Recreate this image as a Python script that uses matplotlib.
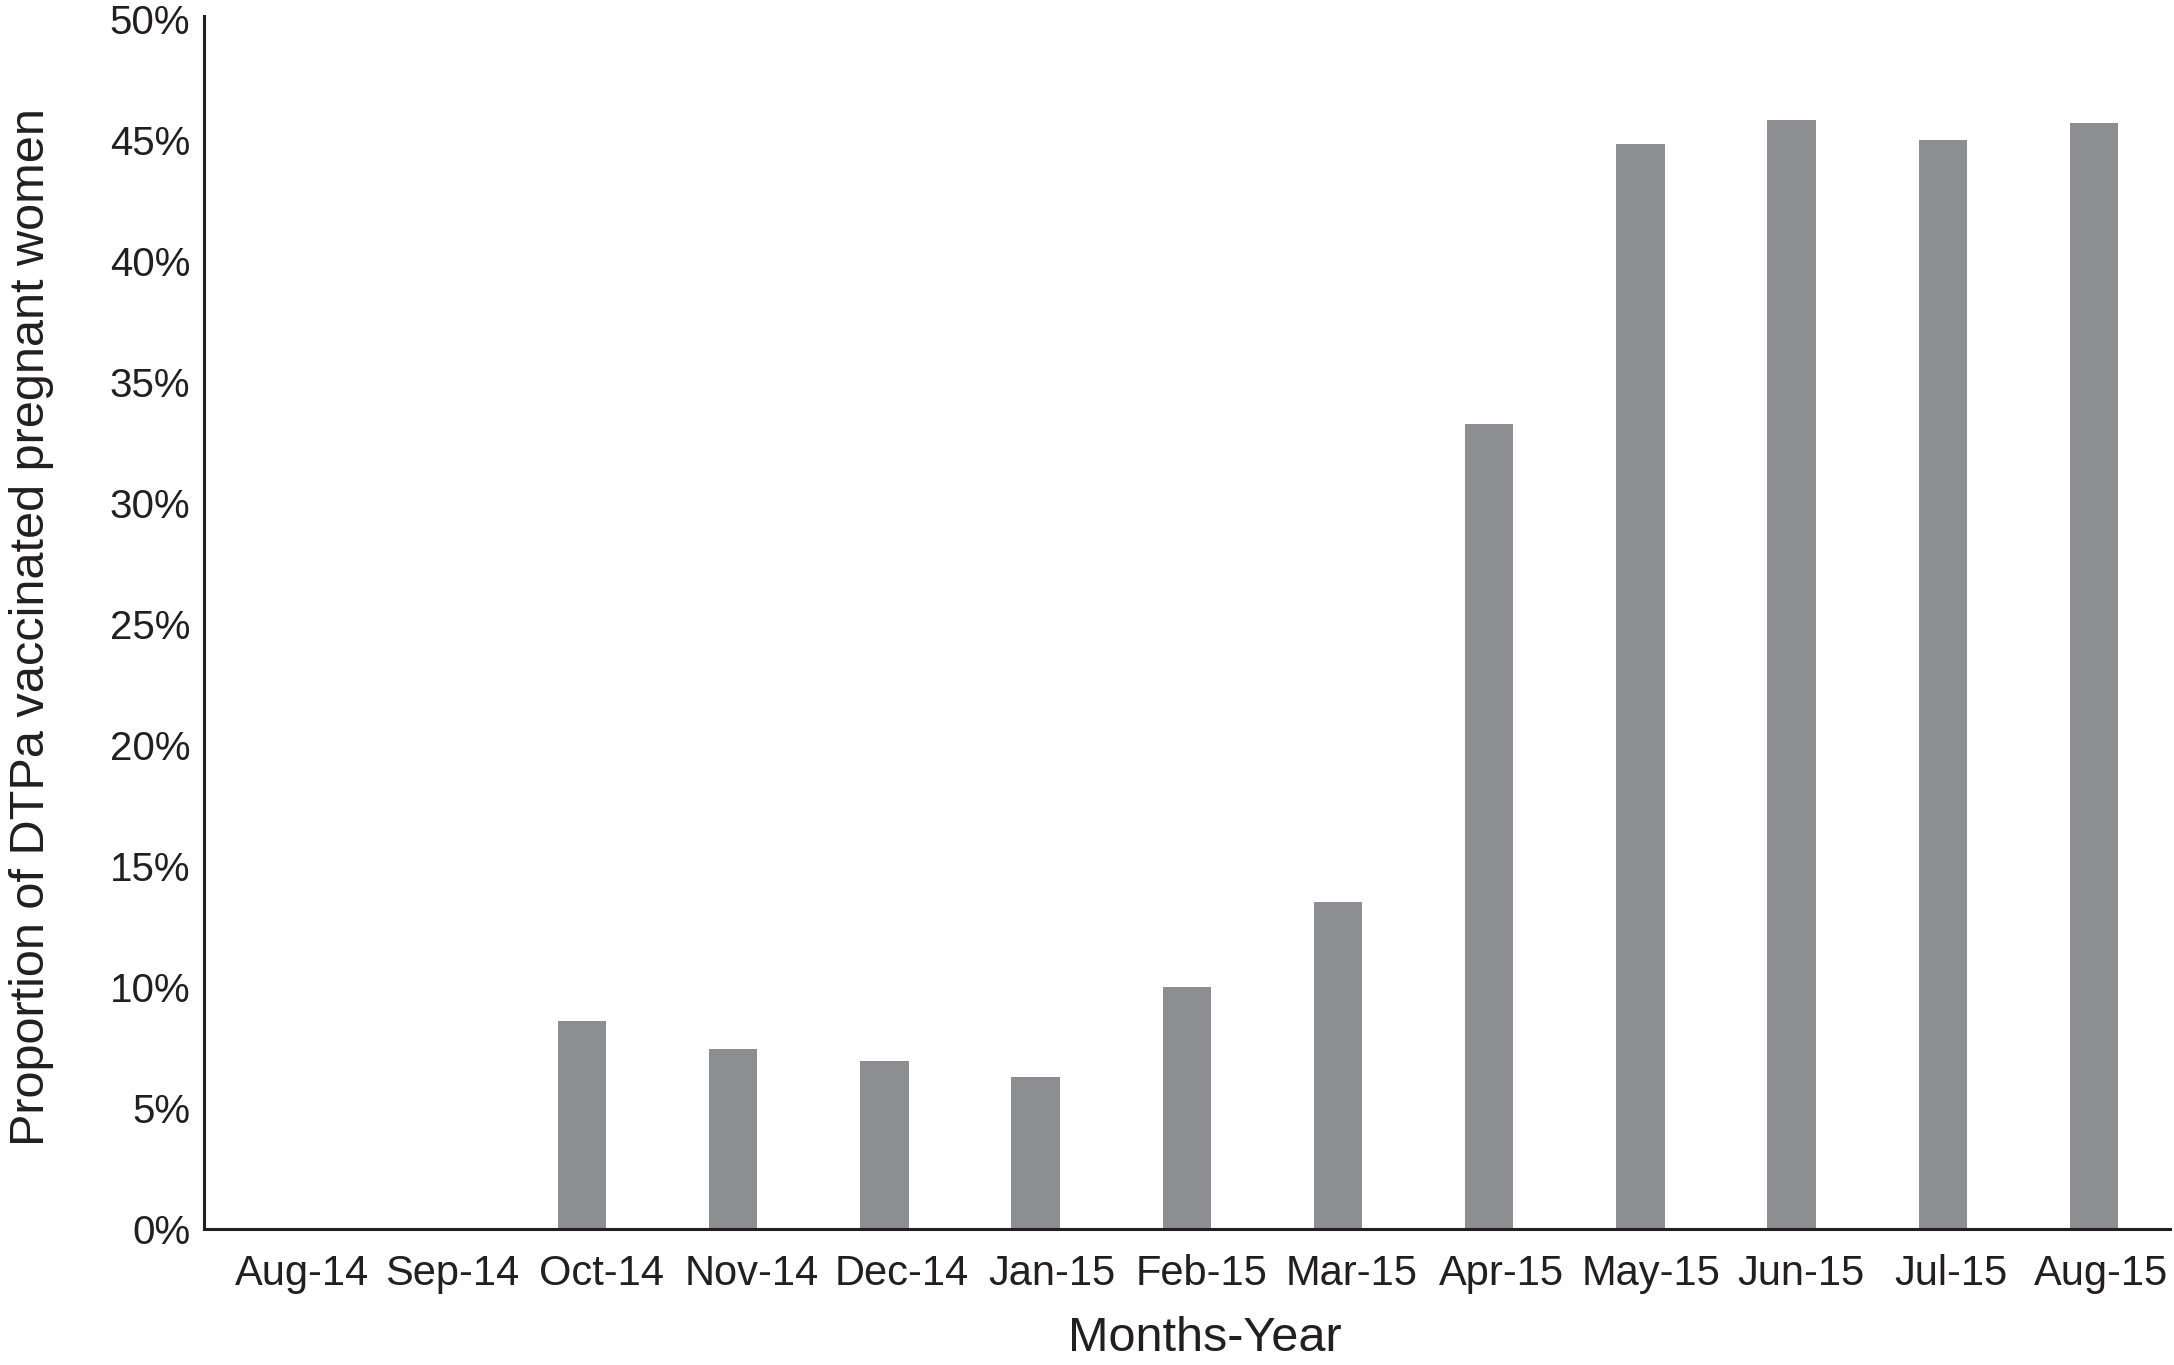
import numpy as np
import matplotlib
matplotlib.use('Agg')
import matplotlib.pyplot as plt
from matplotlib.ticker import FuncFormatter

# datos
months = ['Aug-14', 'Sep-14', 'Oct-14', 'Nov-14', 'Dec-14', 'Jan-15', 'Feb-15',
          'Mar-15', 'Apr-15', 'May-15', 'Jun-15', 'Jul-15', 'Aug-15']
vaccinated_pct = [0, 0, 8.6, 7.45, 6.95, 6.3, 10.0, 13.5, 33.25, 44.8, 45.8, 45.0, 45.7]
y_ticks = [0, 5, 10, 15, 20, 25, 30, 35, 40, 45, 50]

BAR_COLOR = '#8d8e91'
INK = '#231f20'

plt.rcParams['font.family'] = ['Liberation Sans', 'DejaVu Sans']

fig = plt.figure(figsize=(21.74, 13.65), dpi=100)
ax = fig.add_axes([0.0938, 0.0996, 0.9042, 0.8886])

x = np.arange(len(months))
ax.bar(x, vaccinated_pct, width=0.32, color=BAR_COLOR, zorder=2)

ax.set_xlim(-0.5, len(months) - 0.5)
ax.set_ylim(0, 50.1)

# labels del eje x un poco corridos a la derecha como en el original
label_pos = np.linspace(0.15, len(months) - 1 + 0.045, len(months))
ax.set_xticks(label_pos)
ax.set_xticklabels(months)
ax.set_yticks(y_ticks)
ax.yaxis.set_major_formatter(FuncFormatter(lambda v, p: f"{v:.0f}%"))

ax.tick_params(axis='both', length=0, labelsize=29, colors=INK)
ax.tick_params(axis='x', pad=18, labelsize=30)
ax.tick_params(axis='y', pad=10)

for s in ['top', 'right']:
    ax.spines[s].set_visible(False)
for s in ['left', 'bottom']:
    ax.spines[s].set_linewidth(2.2)
    ax.spines[s].set_color(INK)

ax.set_xlabel('Months-Year', fontsize=35, color=INK)
ax.set_ylabel('Proportion of DTPa vaccinated pregnant women', fontsize=35, color=INK)
ax.xaxis.set_label_coords(0.509, -0.072)
ax.yaxis.set_label_coords(-0.0765, 0.496)

fig.savefig('out.png', dpi=100, facecolor='white')
